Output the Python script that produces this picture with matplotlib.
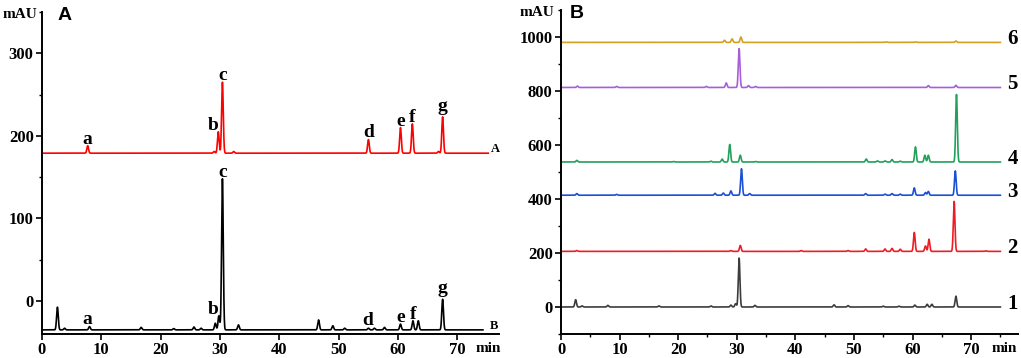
import numpy as np
import matplotlib.pyplot as plt
from matplotlib.ticker import MultipleLocator

plt.rcParams['font.family'] = ['Liberation Serif', 'DejaVu Serif']
plt.rcParams['font.weight'] = 'bold'

# ---- panel A: standards (A, red) and sample (B, black) ----
a_red_base = 179
a_red_rt = [7.7, 29.0, 29.7, 30.4, 32.3, 55.0, 60.4, 62.4, 66.8, 67.5]
a_red_top = [188, 181, 205, 265, 181, 195.5, 210, 214.5, 181, 223]

a_blk_base = -35
a_blk_rt = [2.6, 3.8, 8.0, 16.7, 22.2, 25.6, 26.8, 29.2, 29.8, 30.4, 33.1,
            46.6, 49.0, 51.0, 55.0, 56.0, 57.7, 60.4, 62.5, 63.4, 67.5]
a_blk_top = [-7.5, -33, -31, -32, -33.5, -31.5, -33, -27, -18, 148, -29,
             -23, -30, -33, -33, -33, -32, -28, -24, -24, 2]

peak_names = ['a', 'b', 'c', 'd', 'e', 'f', 'g']
red_label_rt = [7.7, 29.7, 30.4, 55.0, 60.4, 62.4, 67.5]
red_label_top = [188, 205, 265, 195.5, 210, 214.5, 223]
blk_label_rt = [7.7, 29.8, 30.4, 54.8, 60.4, 62.5, 67.5]
blk_label_top = [-30, -18, 148, -32, -28, -24, 2]

# ---- panel B: six batches ----
b_bases = [0, 206, 414, 537, 813, 980]
b_rt = [
    [2.5, 3.6, 8.0, 16.7, 25.6, 29.0, 29.8, 30.4, 33.1, 46.6, 49.0, 55.0,
     57.7, 60.4, 62.5, 63.3, 67.4],
    [2.7, 29.0, 30.6, 41.0, 49.0, 52.0, 55.3, 56.5, 57.9, 60.3, 62.2, 62.8,
     67.1, 72.5],
    [2.7, 9.5, 26.3, 27.7, 29.0, 30.8, 32.2, 52.0, 55.3, 56.5, 57.9, 60.3,
     62.2, 62.7, 67.3],
    [2.7, 19.2, 25.6, 27.5, 28.8, 30.6, 33.2, 52.1, 54.0, 55.3, 56.5, 57.9,
     60.5, 62.1, 62.7, 67.5],
    [2.8, 9.5, 24.8, 28.2, 30.4, 32.0, 33.2, 62.7, 67.4],
    [27.9, 29.2, 30.7, 55.5, 60.5, 67.4],
]
b_top = [
    [27, 4, 6, 4, 4, 7, 12, 181, 6, 8, 5, 3, 3, 7, 10, 10, 40],
    [209, 209, 228, 209, 209, 215, 215, 217, 214, 276, 226, 251, 391, 208],
    [420, 417, 421, 422, 430, 512, 420, 420, 418, 420, 418, 441, 424, 428, 504],
    [543, 539, 540, 548, 602, 562, 539, 548, 541, 541, 546, 540, 593, 562,
     562, 787],
    [818, 817, 817, 830, 957, 820, 817, 820, 821],
    [988, 993, 1000, 982, 982, 985],
]
b_names = ['1', '2', '3', '4', '5', '6']
b_colors = ['#3c3c3c', '#ee1c25', '#1a4fd6', '#22a05c', '#a95ed8', '#d4a020']


def trace(t, base, rts, tops, sigma=0.14):
    y = np.full_like(t, float(base))
    for rt, top in zip(rts, tops):
        y += (top - base) * np.exp(-0.5 * ((t - rt) / sigma) ** 2)
    return y


fig = plt.figure(figsize=(10.21, 3.58), dpi=100)
W, H = 1021, 358
axA = fig.add_axes([42 / W, 1 - 334 / H, (499 - 42) / W, (334 - 12) / H])
axB = fig.add_axes([561 / W, 1 - 334 / H, (1018 - 561) / W, (334 - 10) / H])

for ax in (axA, axB):
    ax.spines['top'].set_visible(False)
    ax.spines['right'].set_visible(False)
    ax.spines['left'].set_linewidth(1.4)
    ax.spines['bottom'].set_linewidth(1.4)
    ax.tick_params(which='major', length=4, width=1.2, labelsize=12, pad=2)
    ax.tick_params(which='minor', length=2.5, width=1.0)

# panel A
tA = np.arange(0, 75.2, 0.01)
tB = np.arange(0, 74.3, 0.01)
axA.plot(tA, trace(tA, a_red_base, a_red_rt, a_red_top), color='#ff0000', lw=1.2)
axA.plot(tB, trace(tB, a_blk_base, a_blk_rt, a_blk_top), color='black', lw=1.2)
axA.set_xlim(0, 77)
axA.set_ylim(-40, 350)
axA.set_xticks(range(0, 80, 10))
axA.set_yticks([0, 100, 200, 300])
axA.yaxis.set_minor_locator(MultipleLocator(50))

for names, rts, tops in [(peak_names, red_label_rt, red_label_top),
                         (peak_names, blk_label_rt, blk_label_top)]:
    for n, rt, top in zip(names, rts, tops):
        dx = -4 if n == 'b' else 0
        va = 'bottom' if n == 'g' else 'baseline'
        axA.annotate(n, (rt, top), xytext=(dx, 1.5), textcoords='offset points',
                     ha='center', va=va, fontsize=14, fontweight='bold')

axA.text(75.6, a_red_base - 2, 'A', fontsize=9, fontweight='bold',
         ha='left', va='bottom', clip_on=False)
axA.text(75.4, a_blk_base - 2, 'B', fontsize=9, fontweight='bold',
         ha='left', va='bottom', clip_on=False)

# panel B
tC = np.arange(0, 75.0, 0.01)
for base, rts, tops, col, name in zip(b_bases, b_rt, b_top, b_colors, b_names):
    axB.plot(tC, trace(tC, base, rts, tops), color=col, lw=1.2)
    axB.text(76.2, base + 12, name, fontsize=15, fontweight='bold',
             ha='left', va='center', clip_on=False)
axB.set_xlim(0, 78)
axB.set_ylim(-100, 1100)
axB.set_xticks(range(0, 80, 10))
axB.xaxis.set_minor_locator(MultipleLocator(5))
axB.set_yticks(range(0, 1001, 200))
axB.yaxis.set_minor_locator(MultipleLocator(100))

for lab in axA.get_xticklabels() + axA.get_yticklabels() + \
        axB.get_xticklabels() + axB.get_yticklabels():
    lab.set_fontweight('bold')

# axis captions and panel letters
fig.text(20 / W, 1 - 14 / H, 'mAU', fontsize=11, fontweight='bold',
         ha='center', va='center')
fig.text(537 / W, 1 - 13 / H, 'mAU', fontsize=11, fontweight='bold',
         ha='center', va='center')
fig.text(488 / W, 1 - 349 / H, 'min', fontsize=11, fontweight='bold',
         ha='center', va='center')
fig.text(1004 / W, 1 - 348 / H, 'min', fontsize=11, fontweight='bold',
         ha='center', va='center')
fig.text(65 / W, 1 - 15 / H, 'A', fontsize=14, fontweight='bold',
         family='Liberation Sans', ha='center', va='center')
fig.text(577 / W, 1 - 14 / H, 'B', fontsize=14, fontweight='bold',
         family='Liberation Sans', ha='center', va='center')

fig.savefig('out.png', dpi=100)
